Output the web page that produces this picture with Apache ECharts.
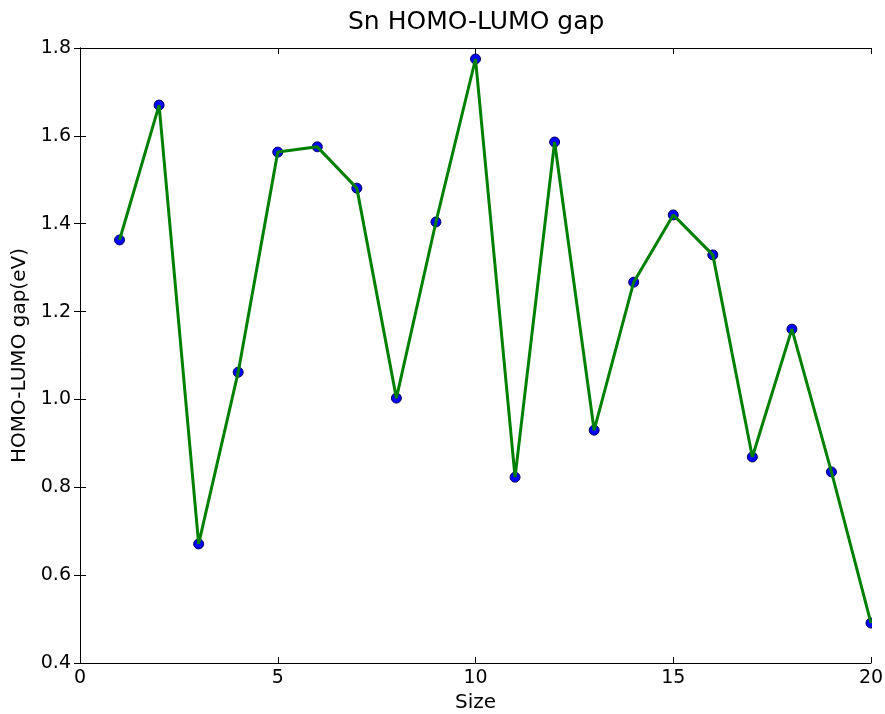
<!DOCTYPE html>
<html>
<head>
<meta charset="utf-8">
<script src="https://cdn.jsdelivr.net/npm/echarts@6/dist/echarts.min.js"></script>
<style>
  html, body { margin: 0; padding: 0; background: #fff; }
  #main { width: 885px; height: 714px; }
</style>
</head>
<body>
<div id="main"></div>
<script>
// cluster size vs. gap
var sizes = [1, 2, 3, 4, 5, 6, 7, 8, 9, 10, 11, 12, 13, 14, 15, 16, 17, 18, 19, 20];
var gaps = [1.363, 1.670, 0.671, 1.062, 1.563, 1.575, 1.481, 1.003, 1.404, 1.775,
            0.823, 1.586, 0.930, 1.267, 1.420, 1.329, 0.869, 1.160, 0.835, 0.491];

var points = sizes.map(function (s, i) { return [s, gaps[i]]; });

var font = 'DejaVu Sans';
var axisLine = { show: true, lineStyle: { color: '#000', width: 1 } };
var tickIn = { show: true, inside: true, length: 6, lineStyle: { color: '#000' } };

var myChart = echarts.init(document.getElementById('main'));

var option = {
    animation: false,
    // centred over the plot area, not the page
    title: {
        text: 'Sn HOMO-LUMO gap',
        left: 348,
        top: 10,
        padding: 0,
        textStyle: { fontFamily: font, fontSize: 25, fontWeight: 'normal', color: '#000' }
    },
    grid: { left: 80, right: 14, top: 48, bottom: 51, outerBoundsMode: 'none', containLabel: false },
    // hide the part of the last marker that sticks out past the frame
    graphic: [{
        type: 'rect', left: 872, top: 48, z: 100,
        shape: { width: 13, height: 615 },
        style: { fill: '#fff' }
    }],
    xAxis: [
        {
            type: 'value', min: 0, max: 20, interval: 5,
            name: 'Size', nameLocation: 'middle', nameGap: 30,
            nameTextStyle: { fontFamily: font, fontSize: 20, color: '#000' },
            axisLine: axisLine, axisTick: tickIn,
            axisLabel: { fontFamily: font, fontSize: 19, color: '#000', margin: 6 },
            splitLine: { show: false }
        },
        {
            type: 'value', min: 0, max: 20, interval: 5, position: 'top',
            axisLine: axisLine, axisTick: tickIn,
            axisLabel: { show: false }, splitLine: { show: false }
        }
    ],
    yAxis: [
        {
            type: 'value', min: 0.4, max: 1.8, interval: 0.2,
            name: 'HOMO-LUMO gap(eV)', nameLocation: 'middle', nameGap: 49,
            nameTextStyle: { fontFamily: font, fontSize: 20, color: '#000' },
            axisLine: axisLine, axisTick: tickIn,
            axisLabel: {
                fontFamily: font, fontSize: 19, color: '#000', margin: 9,
                formatter: function (v) { return v.toFixed(1); }
            },
            splitLine: { show: false }
        },
        {
            type: 'value', min: 0.4, max: 1.8, interval: 0.2, position: 'right',
            axisLine: axisLine, axisTick: tickIn,
            axisLabel: { show: false }, splitLine: { show: false }
        }
    ],
    series: [
        {
            type: 'scatter',
            data: points,
            symbolSize: 10,
            z: 2,
            itemStyle: { color: '#0000ff', borderColor: '#00005a', borderWidth: 1, opacity: 1 }
        },
        {
            type: 'line',
            data: points,
            showSymbol: false,
            clip: true,
            z: 3,
            lineStyle: { color: '#008000', width: 3 }
        }
    ]
};

myChart.setOption(option);
</script>
</body>
</html>
